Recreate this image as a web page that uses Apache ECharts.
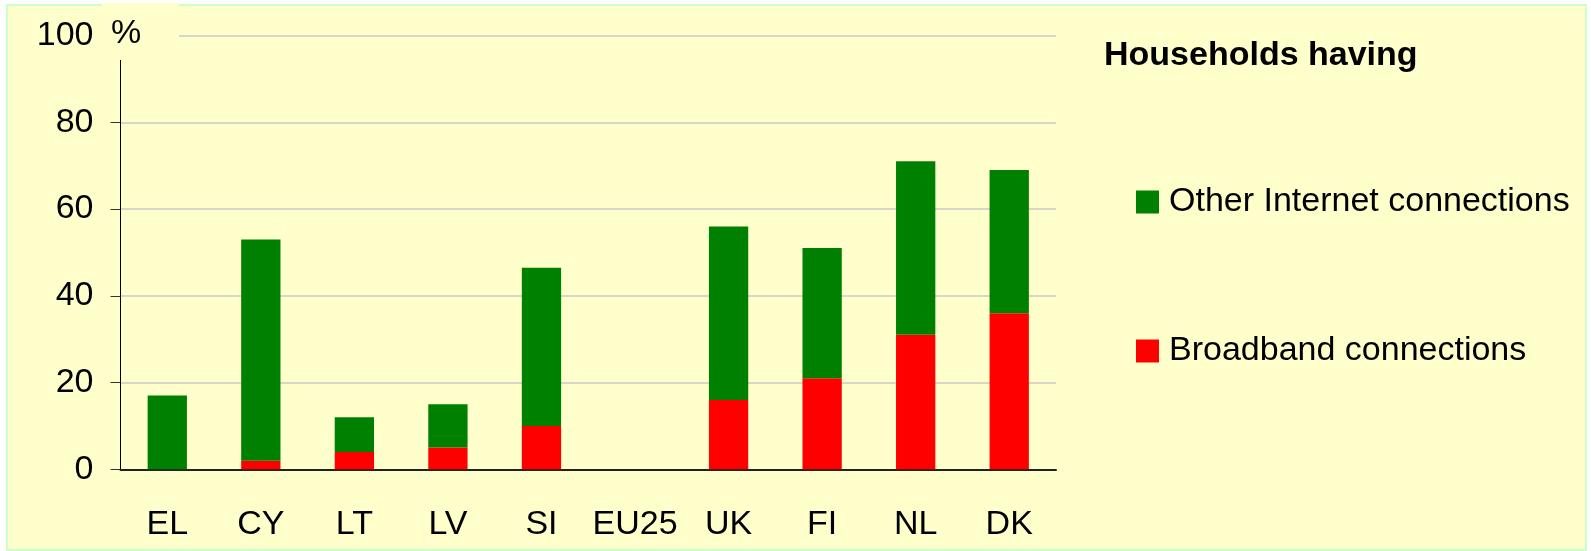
<!DOCTYPE html>
<html>
<head>
<meta charset="utf-8">
<script src="https://cdn.jsdelivr.net/npm/echarts@6/dist/echarts.min.js"></script>
<style>
  html, body { margin: 0; padding: 0; background: #ffffff; }
  #chart { width: 1591px; height: 551px; }
</style>
</head>
<body>
<div id="chart"></div>
<script>
const categories = ['EL', 'CY', 'LT', 'LV', 'SI', 'EU25', 'UK', 'FI', 'NL', 'DK'];
const broadband = [0, 2, 4, 5, 10, null, 16, 21, 31, 36];
const otherInternet = [17, 51, 8, 10, 36.5, null, 40, 30, 40, 33];
const yTicks = { min: 0, max: 100, interval: 20 };
const seriesNames = { broadband: 'Broadband connections', other: 'Other Internet connections' };
const legendTitle = 'Households having';
const yUnit = '%';

const chart = echarts.init(document.getElementById('chart'), null, { renderer: 'canvas' });
const font = 'Liberation Sans, Arial, sans-serif';
chart.setOption({
  animation: false,
  textStyle: { fontFamily: font },
  graphic: [
    { type: 'rect', z: -10, silent: true,
      shape: { x: 7, y: 5, width: 1579, height: 545 },
      style: { fill: '#FFFFCC', stroke: '#CCFFCC', lineWidth: 2 } },
    { type: 'rect', z: 50, silent: true,
      shape: { x: 102, y: 3, width: 77, height: 57 },
      style: { fill: '#FFFFCC' } },
    { type: 'text', z: 51, silent: true, left: 111, top: 17,
      style: { text: yUnit, fontSize: 34, fontFamily: font, fill: '#000' } }
  ],
  title: {
    text: legendTitle, left: 1104, top: 39, padding: 0,
    textStyle: { fontSize: 34, fontWeight: 'bold', color: '#000', fontFamily: font }
  },
  legend: {
    orient: 'vertical', left: 1136, top: 185, padding: 0,
    itemWidth: 23, itemHeight: 23, itemGap: 115,
    data: [seriesNames.other, seriesNames.broadband],
    icon: 'rect',
    textStyle: { fontSize: 34, color: '#000', lineHeight: 34, padding: [0, 0, 0, 5], fontFamily: font }
  },
  grid: { left: 120.5, right: 535, top: 35.6, bottom: 81.7, containLabel: false },
  xAxis: {
    type: 'category', data: categories,
    axisLine: { lineStyle: { color: '#222', width: 2 } },
    axisTick: { show: false },
    axisLabel: { fontSize: 34, color: '#000', margin: 38, interval: 0 },
    splitLine: { show: false }
  },
  yAxis: {
    type: 'value', min: yTicks.min, max: yTicks.max, interval: yTicks.interval,
    axisLine: { show: true, lineStyle: { color: '#000', width: 1 } },
    axisTick: { show: true, length: 10, lineStyle: { color: '#333' } },
    axisLabel: { fontSize: 34, color: '#000', margin: 27, padding: [3, 0, 0, 0] },
    splitLine: { show: true, lineStyle: { color: '#C8C8C8', width: 1.5 } }
  },
  series: [
    { name: seriesNames.broadband, type: 'bar', stack: 'total', data: broadband,
      barWidth: '42%', itemStyle: { color: '#FF0000' } },
    { name: seriesNames.other, type: 'bar', stack: 'total', data: otherInternet,
      barWidth: '42%', itemStyle: { color: '#008000' } }
  ]
});
</script>
</body>
</html>
